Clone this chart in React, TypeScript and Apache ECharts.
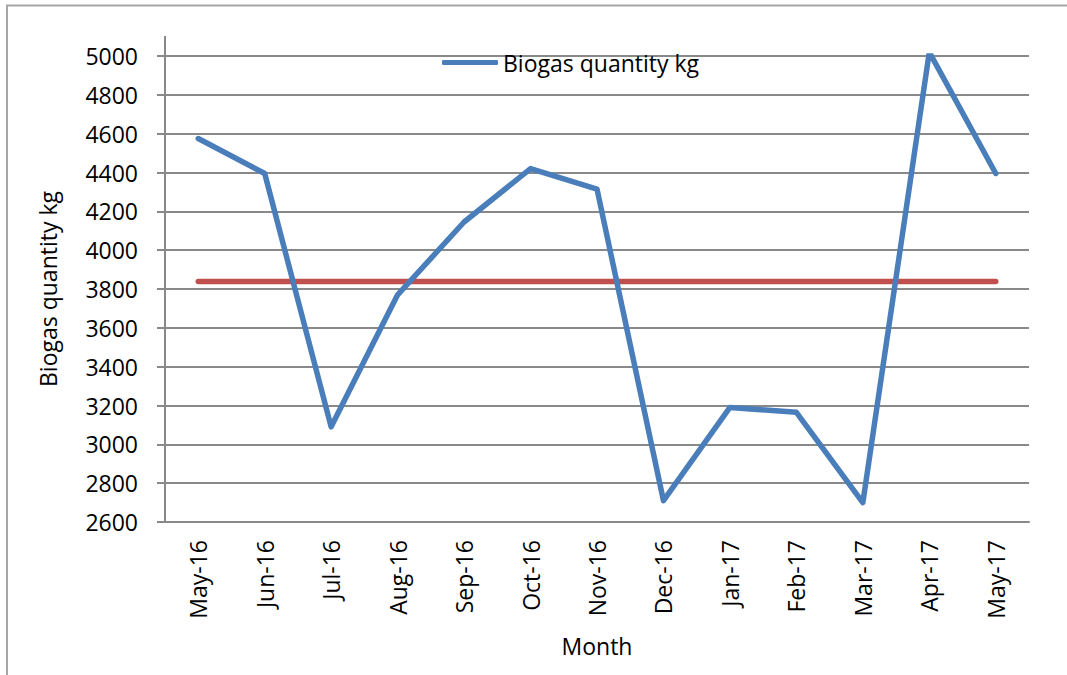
import React, { useEffect, useRef } from "react";
import * as echarts from "echarts";

const months = [
  "May-16", "Jun-16", "Jul-16", "Aug-16", "Sep-16", "Oct-16", "Nov-16",
  "Dec-16", "Jan-17", "Feb-17", "Mar-17", "Apr-17", "May-17",
];
const biogas = [4575, 4395, 3090, 3770, 4145, 4420, 4315, 2710, 3190, 3165, 2700, 5020, 4395];
const average = [3838, 3838, 3838, 3838, 3838, 3838, 3838, 3838, 3838, 3838, 3838, 3838, 3838];
const yMin = 2600;
const yMax = 5000;
const yStep = 200;

const FONT = "'Open Sans', sans-serif";
const GRID = "#898989";
const FS = 23;

export default function App() {
  const ref = useRef<HTMLDivElement>(null);
  useEffect(() => {
    if (!ref.current) return;
    const chart = echarts.init(ref.current, undefined, { renderer: "svg" });
    chart.setOption({
      animation: false,
      backgroundColor: "#ffffff",
      textStyle: { fontFamily: FONT, color: "#000" },
      grid: { left: 165, right: 38, top: 56, bottom: 153 },
      legend: {
        data: [{ name: "Biogas quantity kg", icon: "roundRect" }],
        left: 437,
        top: 46,
        itemWidth: 56,
        itemHeight: 5,
        itemStyle: { color: "#4a7ebb" },
        textStyle: { fontFamily: FONT, fontSize: FS, color: "#000" },
      },
      graphic: [
        {
          type: "rect",
          shape: { x: 7, y: 5.5, width: 1100, height: 720 },
          style: { fill: "none", stroke: "#a6a6a6", lineWidth: 2 },
          silent: true,
        },
        {
          type: "line",
          shape: { x1: 165, y1: 36, x2: 165, y2: 56 },
          style: { stroke: GRID, lineWidth: 2 },
          silent: true,
        },
      ],
      xAxis: {
        type: "category",
        data: months,
        boundaryGap: true,
        axisLine: { lineStyle: { color: GRID, width: 2 } },
        axisTick: { show: false },
        axisLabel: {
          rotate: 90,
          margin: 18,
          fontFamily: FONT,
          fontSize: FS,
          color: "#000",
          interval: 0,
        },
        name: "Month",
        nameLocation: "middle",
        nameGap: 112,
        nameTextStyle: { fontFamily: FONT, fontSize: FS, color: "#000" },
      },
      yAxis: {
        type: "value",
        min: yMin,
        max: yMax,
        interval: yStep,
        axisLine: { show: true, lineStyle: { color: GRID, width: 2 } },
        axisTick: { show: true, length: 8, lineStyle: { color: GRID, width: 2 } },
        splitLine: { lineStyle: { color: GRID, width: 2 } },
        axisLabel: {
          margin: 27,
          fontFamily: FONT,
          fontSize: FS,
          color: "#000",
          formatter: (v: number) => String(v),
        },
        name: "Biogas quantity kg",
        nameLocation: "middle",
        nameRotate: 90,
        nameGap: 106,
        nameTextStyle: { fontFamily: FONT, fontSize: FS, color: "#000" },
      },
      series: [
        {
          name: "Biogas quantity kg",
          type: "line",
          data: biogas,
          symbol: "none",
          lineStyle: { color: "#4a7ebb", width: 5.5, cap: "round", join: "round" },
          itemStyle: { color: "#4a7ebb" },
          z: 3,
        },
        {
          name: "Average",
          type: "line",
          data: average,
          symbol: "none",
          lineStyle: { color: "#c0504d", width: 5.5, cap: "round" },
          itemStyle: { color: "#c0504d" },
          z: 2,
        },
      ],
    });
    return () => chart.dispose();
  }, []);
  return (
    <div
      ref={ref}
      style={{ position: "fixed", left: 0, top: 0, width: 1067, height: 675 }}
    />
  );
}
